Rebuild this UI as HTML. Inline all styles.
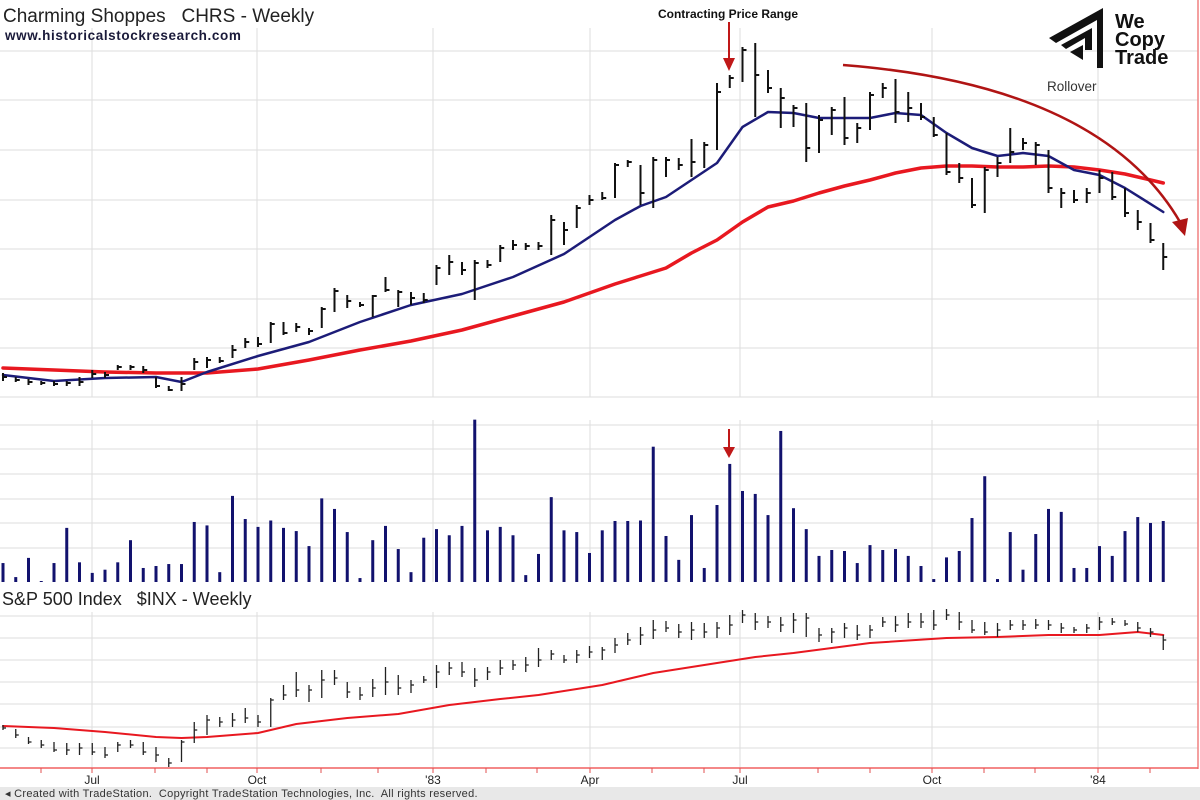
<!DOCTYPE html>
<html><head><meta charset="utf-8"><style>
html,body{margin:0;padding:0;background:#fff;}
svg{display:block;font-family:"Liberation Sans",sans-serif;}
text{white-space:pre;}
</style></head><body>
<svg id="chart" width="1200" height="800" viewBox="0 0 1200 800" xmlns="http://www.w3.org/2000/svg">
<rect x="0" y="0" width="1200" height="800" fill="#fff"/>
<g id="grid"></g>
<g id="marks"></g>
<text x="3" y="22" font-size="19" fill="#222" xml:space="preserve">Charming Shoppes   CHRS - Weekly</text>
<text x="5" y="40" font-size="13.5" font-weight="bold" fill="#1a1a3a" letter-spacing="0.6">www.historicalstockresearch.com</text>
<text x="2" y="605" font-size="18" fill="#222" xml:space="preserve">S&amp;P 500 Index   $INX - Weekly</text>
<text x="728" y="18" font-size="12" font-weight="bold" text-anchor="middle" fill="#111">Contracting Price Range</text>
<g><line x1="729" y1="22" x2="729" y2="60" stroke="#c01818" stroke-width="2"/><polygon points="723,58 735,58 729,71" fill="#c01818"/></g>
<g><line x1="729" y1="429" x2="729" y2="449" stroke="#c01818" stroke-width="2"/><polygon points="723,447 735,447 729,458" fill="#c01818"/></g>
<text x="1047" y="91" font-size="13.5" fill="#333">Rollover</text>
<g><path d="M843,65 Q1100,85 1180,222" fill="none" stroke="#b01414" stroke-width="2.5"/><polygon points="1172,222 1188,218 1185,236" fill="#b01414"/></g>
<g>
<polygon points="1049,38 1103,8 1103,68 1097,68 1097,20 1056,43" fill="#111"/>
<polygon points="1061,45 1092,28 1092,50 1085,50 1085,38 1066,49" fill="#111"/>
<polygon points="1070,52 1083,45 1083,60" fill="#111"/>
<text x="1115" y="28" font-size="20" font-weight="bold" fill="#111">We</text>
<text x="1115" y="46" font-size="20" font-weight="bold" fill="#111">Copy</text>
<text x="1115" y="64" font-size="20" font-weight="bold" fill="#111">Trade</text>
</g>
<line x1="1198" y1="0" x2="1198" y2="769" stroke="#f08080" stroke-width="1.5"/>
<line x1="0" y1="768" x2="1198" y2="768" stroke="#f06060" stroke-width="1.5"/>
<g id="xaxis"></g>
<rect x="0" y="787" width="1200" height="13" fill="#e8e8e8"/>
<text x="5" y="797" font-size="11" fill="#333" letter-spacing="0.3" xml:space="preserve">◂ Created with TradeStation.  Copyright TradeStation Technologies, Inc.  All rights reserved.</text>
</svg>
<script>
const hi=[2.7,2.3,2.1,1.9,1.9,1.9,2.3,3.0,2.8,3.5,3.5,3.4,2.3,1.4,2.3,4.2,4.3,4.3,5.5,6.2,6.3,7.8,7.8,7.7,7.2,9.3,11.2,10.5,9.8,10.5,12.3,11.0,10.8,10.7,13.5,14.5,13.8,14.0,14.0,15.5,16.0,15.7,15.8,18.5,17.8,19.5,20.5,20.8,23.7,24.0,23.5,24.3,24.3,24.2,26.1,25.8,31.7,32.5,35.3,35.7,33.0,31.2,29.5,29.7,28.5,29.3,30.3,27.7,30.8,31.7,32.1,30.8,29.7,28.3,26.7,23.7,22.2,23.3,24.3,27.2,26.2,25.8,25.0,21.2,21.0,21.2,23.0,22.8,21.2,19.0,17.7,15.7];
const lo=[1.9,1.8,1.5,1.5,1.4,1.4,1.4,2.2,2.2,3.0,3.0,2.7,1.2,0.9,0.9,3.0,3.2,3.7,4.2,5.2,5.3,5.7,6.5,6.8,6.5,7.2,8.8,9.2,9.3,8.3,10.8,9.3,9.5,9.7,11.5,12.5,12.5,10.0,13.2,13.8,15.0,15.0,15.0,14.5,15.5,17.2,19.5,20.0,20.2,23.3,19.5,19.2,22.3,23.0,22.3,23.2,25.0,31.2,31.8,28.3,30.7,27.2,27.3,23.8,24.7,26.5,25.5,25.7,27.0,30.2,27.7,27.8,28.0,26.3,22.5,21.7,19.2,18.7,22.3,23.7,25.0,23.5,20.7,19.2,19.7,19.7,20.7,20.0,18.3,17.0,15.7,13.0];
const cl=[2.3,2.0,1.8,1.7,1.6,1.7,1.8,2.6,2.5,3.3,3.3,3.0,1.4,1.0,1.6,3.8,4.0,3.9,5.0,5.8,5.6,7.6,6.7,7.3,6.9,9.1,10.9,9.9,9.5,10.4,11.0,10.8,10.2,10.0,13.2,13.8,13.0,13.7,13.5,15.2,15.5,15.4,15.4,18.0,17.0,19.2,20.0,20.2,23.5,23.8,20.7,24.0,24.0,23.5,23.8,25.5,30.8,32.2,35.0,32.5,31.2,30.2,29.2,25.2,28.0,29.0,26.2,27.2,30.5,31.2,28.8,29.2,28.3,26.5,22.8,22.2,19.5,23.0,23.7,24.8,25.7,25.5,21.2,20.7,20.0,20.7,22.2,20.3,18.7,17.8,16.0,14.3];
const vol=[0.77,0.2,0.98,0.04,0.77,2.2,0.8,0.37,0.5,0.8,1.7,0.57,0.65,0.73,0.73,2.44,2.3,0.4,3.5,2.56,2.24,2.5,2.2,2.07,1.46,3.4,2.97,2.03,0.16,1.7,2.28,1.34,0.4,1.8,2.15,1.9,2.28,6.6,2.1,2.24,1.9,0.28,1.14,3.45,2.1,2.03,1.18,2.1,2.48,2.48,2.5,5.5,1.87,0.9,2.72,0.57,3.13,4.8,3.7,3.58,2.72,6.14,3.0,2.15,1.06,1.3,1.26,0.77,1.5,1.3,1.34,1.06,0.65,0.12,1.0,1.26,2.6,4.3,0.12,2.03,0.5,1.95,2.97,2.85,0.57,0.57,1.46,1.06,2.07,2.64,2.4,2.48];
const maIdx=[0,4,8,12,14,16,20,24,28,32,36,40,44,48,50,52,54,56,58,60,62,64,66,68,70,72,74,76,78,80,82,84,86,88,91];
const maFast=[2.5,1.9,2.2,2.3,1.8,2.8,4.4,5.8,7.8,9.5,10.6,12.3,14.6,18.0,19.4,20.3,22.0,23.7,27.3,28.8,28.7,28.2,28.2,28.2,28.7,28.5,26.7,25.2,24.4,24.7,24.4,23.0,22.5,21.2,18.8];
const maSlow=[3.2,3.0,2.8,2.7,2.7,2.7,3.1,4.0,5.0,5.9,7.0,8.4,9.8,11.6,12.4,13.2,14.7,16.0,17.8,19.3,19.9,20.7,21.4,22.0,22.7,23.2,23.4,23.4,23.3,23.3,23.4,23.3,23.0,22.6,21.7];
const spHi=[75,71,63,60,58,57,57,57,53,58,60,58,53,42,60,78,85,83,87,92,85,102,115,128,115,130,130,118,113,121,133,125,120,124,135,138,138,132,133,140,140,143,152,150,145,150,154,153,162,167,173,180,179,176,178,177,178,185,190,187,184,183,187,187,172,172,177,175,175,183,184,187,187,190,191,188,180,178,177,180,180,181,180,177,173,176,183,182,180,178,172,165];
const spLo=[70,62,56,52,48,45,45,45,42,48,52,45,38,33,38,57,65,73,73,77,73,73,100,103,98,102,115,102,100,103,105,105,107,117,112,125,123,113,120,125,130,128,133,140,137,137,142,140,147,155,155,161,168,162,160,162,162,165,177,170,172,168,167,163,158,157,162,160,162,173,168,172,172,170,180,170,167,165,163,170,170,171,170,167,167,167,170,175,174,168,163,150];
const spCl=[72,65,58,55,50,50,52,48,45,55,55,48,45,37,58,70,80,78,80,82,78,100,105,110,110,120,122,108,105,112,118,112,115,120,128,132,128,120,128,132,135,135,140,146,140,145,148,150,155,160,165,170,172,168,170,168,172,175,185,178,178,175,180,182,165,168,172,165,170,178,175,178,178,175,185,178,170,168,170,175,175,175,175,172,170,172,178,178,176,172,168,160];
const spMaIdx=[0,4,8,12,14,16,20,23,27,31,35,39,42,46,47,51,55,59,62,68,74,78,82,86,89,91];
const spMa=[74,72,68,63,62,63,67,76,82,86,95,101,105,113,115,127,135,143,147,157,162,163,165,165,168,165];
const monthTicks=[41,92,155,207,257,321,378,433,486,537,590,652,704,740,818,870,932,984,1035,1098,1150];
const monthLabels=[["Jul",92],["Oct",257],["'83",433],["Apr",590],["Jul",740],["Oct",932],["'84",1098]];

const NS="http://www.w3.org/2000/svg";
const xS=i=>3+i*12.75;
const yP=p=>400-p*10;
const yV=v=>582-v*24.6;
const yS=v=>800-v;
const marks=document.getElementById('marks'), grid=document.getElementById('grid'), xaxis=document.getElementById('xaxis');
function mk(tag,attrs,parent){const e=document.createElementNS(NS,tag);for(const k in attrs)e.setAttribute(k,attrs[k]);parent.appendChild(e);return e;}

[51,100,150,200,249,299,348,397,425,449,474,499,523,548,616,638,660,682,704,727,748].forEach(y=>{
  const l=mk('line',{x1:0,x2:1198,y1:y,y2:y,stroke:'#dedede','stroke-width':1},grid);
  
  
});
monthLabels.forEach(m=>{
  [[28,397],[420,582],[612,768]].forEach(r=>{
    const l=mk('line',{x1:m[1],x2:m[1],y1:r[0],y2:r[1],stroke:'#dedede','stroke-width':1},grid);
    
    
  });
});
monthTicks.forEach(x=>{
  const t=mk('line',{x1:x,x2:x,y1:768,y2:773,stroke:'#e05050','stroke-width':1},xaxis);
  
  
});
monthLabels.forEach(m=>{
  const t=mk('text',{x:m[1],y:784,'font-size':12,'text-anchor':'middle',fill:'#222'},xaxis);
  t.textContent=m[0];
  
  
});
const gv=mk('g',{},marks);


vol.forEach((v,i)=>{
  const b=mk('rect',{x:xS(i)-1.5,y:yV(v),width:3,height:582-yV(v),fill:'#12126e'},gv);
  
  
});
function line(idx,vals,ys,color,w,name){
  const d=idx.map((i,k)=>(k?'L':'M')+xS(i).toFixed(1)+','+ys(vals[k]).toFixed(1)).join(' ');
  const p=mk('path',{d:d,fill:'none',stroke:color,'stroke-width':w,'stroke-linejoin':'round','stroke-linecap':'round'},marks);
  
  
}
line(maIdx,maSlow,yP,'#e81820',3.5,'slow-moving-average');
line(maIdx,maFast,yP,'#1c1c78',2.5,'fast-moving-average');
line(spMaIdx,spMa,yS,'#e81820',2,'sp500-moving-average');
const gp=mk('g',{},marks);


hi.forEach((h,i)=>{
  const x=xS(i);
  const g=mk('g',{},gp);
  
  
  mk('line',{x1:x,x2:x,y1:yP(h),y2:yP(lo[i]),stroke:'#111','stroke-width':2},g);
  const c=Math.max(lo[i],Math.min(h,cl[i]));
  mk('line',{x1:x,x2:x+4,y1:yP(c),y2:yP(c),stroke:'#111','stroke-width':2},g);
});
const gs=mk('g',{},marks);


spHi.forEach((h,i)=>{
  const x=xS(i);
  const g=mk('g',{},gs);
  
  
  mk('line',{x1:x,x2:x,y1:yS(h),y2:yS(spLo[i]),stroke:'#222','stroke-width':1.3},g);
  const c=Math.max(spLo[i],Math.min(h,spCl[i]));
  mk('line',{x1:x,x2:x+3,y1:yS(c),y2:yS(c),stroke:'#222','stroke-width':1.3},g);
});
</script>
</body></html>
